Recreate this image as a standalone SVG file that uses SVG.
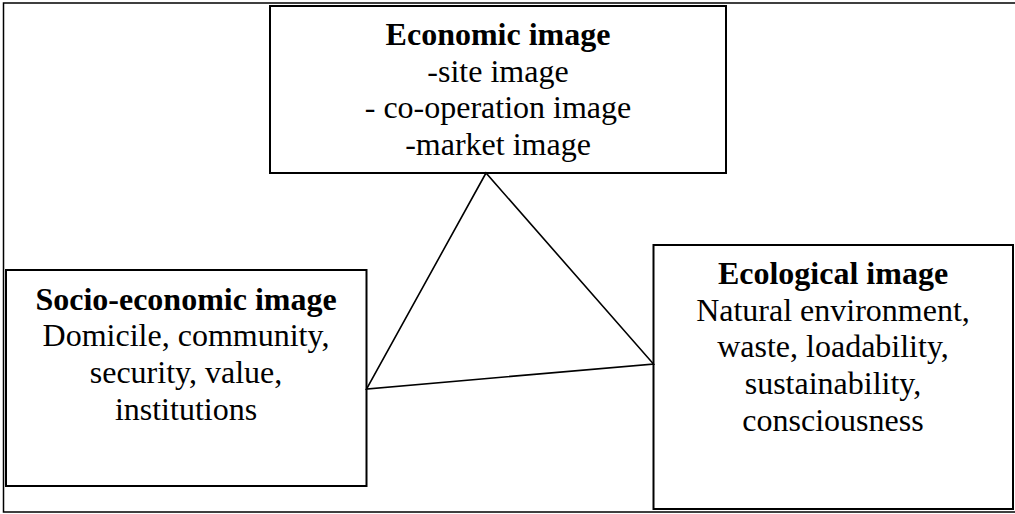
<svg xmlns="http://www.w3.org/2000/svg" width="1015" height="514" viewBox="0 0 1015 514">
<style>
.box{fill:#fff;stroke:#000;stroke-width:2}
.frame{fill:#fff;stroke:#000;stroke-width:1.5}
.t{font-family:"Liberation Serif","Times New Roman",serif;font-size:32px;fill:#000;text-anchor:middle}
.b{font-weight:bold}
.ln{fill:none;stroke:#000;stroke-width:1.6}
</style>
<rect class="frame" x="3.5" y="3" width="1020" height="509"/>
<g id="economic">
<rect class="box" x="270" y="6" width="456" height="167"/>
<text class="t b" x="498" y="45">Economic image</text>
<text class="t" x="498" y="81.7">-site image</text>
<text class="t" x="498" y="118.3">- co-operation image</text>
<text class="t" x="498" y="155">-market image</text>
</g>
<g id="socio">
<rect class="box" x="6" y="270" width="360.5" height="216"/>
<text class="t b" x="186" y="309.5">Socio-economic image</text>
<text class="t" x="186" y="346">Domicile, community,</text>
<text class="t" x="186" y="383">security, value,</text>
<text class="t" x="186" y="419.5">institutions</text>
</g>
<g id="ecological">
<rect class="box" x="653.5" y="245" width="359.5" height="264"/>
<text class="t b" x="833" y="284">Ecological image</text>
<text class="t" x="833" y="320.7">Natural environment,</text>
<text class="t" x="833" y="357.3">waste, loadability,</text>
<text class="t" x="833" y="394">sustainability,</text>
<text class="t" x="833" y="430.7">consciousness</text>
</g>
<g id="connectors">
<polygon class="ln" points="486,173 366.5,389 653.5,364"/>
</g>
</svg>
